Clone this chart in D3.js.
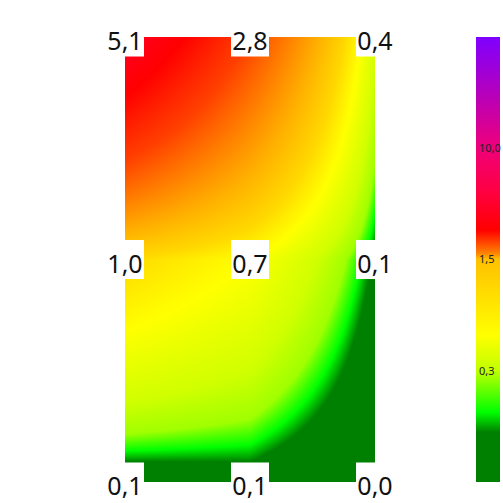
<!DOCTYPE html>
<html><head><meta charset="utf-8">
<script src="https://cdn.jsdelivr.net/npm/d3@7"></script>
<style>html,body{margin:0;padding:0;background:#fff;}svg{display:block;}</style>
</head><body>
<script>
// ---- data ----
const columns = [0, 1, 2];
const rows = [0, 1, 2];
const row0Values = [5.1, 2.8, 0.44];
const row1Values = [1.0, 0.7, 0.14];
const row2Values = [0.07, 0.1, 0.0];
const gridValues = [row0Values, row1Values, row2Values];

// colour scale used by the heat map (value -> colour)
const colorValues = [0, 0.155, 0.2, 0.27, 0.4, 0.7, 1.0, 1.5, 2.1, 2.8, 4.0, 6, 10, 20, 40];
const colorRange = ["#008000","#008000","#00ff00","#a0ff00","#d0ff00","#ffff00","#ffd800","#ffb000","#ff7c00","#ff4000","#ff0000","#ff0045","#f0007a","#c000b0","#7f00ff"];
// colour bar stops (fraction from the bottom of the bar)
const legendColors = ["#008000","#008000","#00ff00","#c0ff00","#ffff00","#ffc000","#ff8000","#ff0000","#ff0040","#f0007a","#c000b0","#7f00ff"];
const legendOffsets = [0, 0.112, 0.157, 0.25, 0.33, 0.5, 0.515, 0.566, 0.65, 0.75, 0.85, 1.0];
const legendTickLabels = ["10,0", "1,5", "0,3"];
const legendTickFractions = [0.75, 0.5, 0.25];

const W = 503, H = 503;
const svg = d3.select("body").append("svg").attr("width", W).attr("height", H);

const x = d3.scaleLinear().domain([0, 2]).range([125, 375]);
const y = d3.scaleLinear().domain([0, 2]).range([37, 482]);
const color = d3.scaleLinear().domain(colorValues).range(colorRange).clamp(true);

// bilinear interpolation of grid values
function valueAt(c, r) {
  const c0 = Math.min(1, Math.floor(c)), r0 = Math.min(1, Math.floor(r));
  const u = c - c0, t = r - r0;
  const a = gridValues[r0][c0], b = gridValues[r0][c0 + 1];
  const d = gridValues[r0 + 1][c0], e = gridValues[r0 + 1][c0 + 1];
  return (a * (1 - u) + b * u) * (1 - t) + (d * (1 - u) + e * u) * t;
}

const x0 = Math.round(x(0)), x1 = Math.round(x(2));
const y0 = Math.round(y(0)), y1 = Math.round(y(2));
const cw = x1 - x0, ch = y1 - y0;
const canvas = document.createElement("canvas");
canvas.width = cw; canvas.height = ch;
const ctx = canvas.getContext("2d");
const img = ctx.createImageData(cw, ch);
for (let j = 0; j < ch; j++) {
  const r = Math.max(0, Math.min(2, y.invert(y0 + j + 0.5)));
  for (let i = 0; i < cw; i++) {
    const c = Math.max(0, Math.min(2, x.invert(x0 + i + 0.5)));
    const col = d3.rgb(color(valueAt(c, r)));
    const k = (j * cw + i) * 4;
    img.data[k] = col.r; img.data[k + 1] = col.g; img.data[k + 2] = col.b; img.data[k + 3] = 255;
  }
}
ctx.putImageData(img, 0, 0);
svg.append("image").attr("x", x0).attr("y", y0).attr("width", cw).attr("height", ch)
  .attr("preserveAspectRatio", "none").attr("href", canvas.toDataURL());

// value labels with white boxes
const fmt = v => d3.format(".1f")(v).replace(".", ",");
const labels = [];
rows.forEach(r => columns.forEach(c => labels.push({r, c, v: gridValues[r][c]})));
const lg = svg.append("g");
lg.selectAll("rect").data(labels).join("rect")
  .attr("x", d => x(d.c) - 19).attr("y", d => y(d.r) - 19.5)
  .attr("width", 38).attr("height", 39).attr("fill", "#fff");
lg.selectAll("text").data(labels).join("text")
  .attr("x", d => x(d.c)).attr("y", d => y(d.r) + 13)
  .attr("text-anchor", "middle")
  .attr("font-family", "'Noto Sans', 'Open Sans', sans-serif")
  .attr("font-size", 25).attr("fill", "#111")
  .text(d => fmt(d.v));

// colour bar
const barX = 476, barW = 24;
const barY = d3.scaleLinear().domain([0, 1]).range([482, 37]);
const defs = svg.append("defs");
const grad = defs.append("linearGradient").attr("id", "bar").attr("x1", 0).attr("y1", 1).attr("x2", 0).attr("y2", 0);
grad.selectAll("stop").data(legendColors).join("stop")
  .attr("offset", (d, i) => legendOffsets[i]).attr("stop-color", d => d);
svg.append("rect").attr("x", barX).attr("y", barY(1)).attr("width", barW)
  .attr("height", barY(0) - barY(1)).attr("fill", "url(#bar)");
svg.selectAll("text.tick").data(legendTickLabels).join("text").attr("class", "tick")
  .attr("x", barX + 3).attr("y", (d, i) => barY(legendTickFractions[i]))
  .attr("dy", "0.35em")
  .attr("font-family", "'Noto Sans', 'Open Sans', sans-serif")
  .attr("font-size", 11).attr("fill", "#222")
  .text(d => d);
</script>
</body></html>
